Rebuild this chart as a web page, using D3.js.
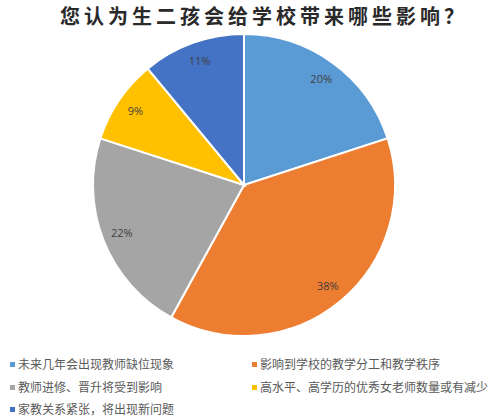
<!DOCTYPE html>
<html>
<head>
<meta charset="utf-8">
<script src="https://cdn.jsdelivr.net/npm/d3@7"></script>
<style>
  body { margin: 0; background: #fff; }
  svg { display: block; }
</style>
</head>
<body>
<svg id="chart" width="500" height="420"></svg>
<script>
var title = "您认为生二孩会给学校带来哪些影响？";
var categories = [
    "未来几年会出现教师缺位现象",
    "影响到学校的教学分工和教学秩序",
    "教师进修、晋升将受到影响",
    "高水平、高学历的优秀女老师数量或有减少",
    "家教关系紧张，将出现新问题"
];
var values = [20, 38, 22, 9, 11];
var colors = ["#5b9bd5", "#ed7d31", "#a5a5a5", "#ffc000", "#4472c4"];

var width = 500, height = 420;
var cx = 244, cy = 185, radius = 151;

var svg = d3.select("#chart");

svg.append("text")
    .attr("x", 264)
    .attr("y", 24)
    .attr("text-anchor", "middle")
    .style("font-family", "'Noto Sans CJK SC', sans-serif")
    .style("font-weight", "bold")
    .style("font-size", "20px")
    .style("letter-spacing", "4px")
    .attr("fill", "#2a2a2a")
    .text(title);

var pie = d3.pie().sort(null).value(d => d);
var arcs = pie(values);
var arc = d3.arc().innerRadius(0).outerRadius(radius);
var labelArc = d3.arc().innerRadius(radius * 0.87).outerRadius(radius * 0.87);

var g = svg.append("g").attr("transform", "translate(" + cx + "," + cy + ")");

g.selectAll("path")
    .data(arcs)
    .enter()
    .append("path")
    .attr("d", arc)
    .attr("fill", (d, i) => colors[i])
    .attr("stroke", "#fff")
    .attr("stroke-width", 2);

g.selectAll("text")
    .data(arcs)
    .enter()
    .append("text")
    .attr("transform", d => "translate(" + labelArc.centroid(d) + ")")
    .attr("text-anchor", "middle")
    .attr("dy", "0.35em")
    .style("font-family", "'Open Sans', sans-serif")
    .style("font-size", "11px")
    .attr("fill", "#404040")
    .text(d => d.data + "%");

// legend
var legX = [10, 252], legY = [365, 388, 410];
var leg = svg.append("g")
    .selectAll("g")
    .data(categories)
    .enter()
    .append("g")
    .attr("transform", (d, i) => "translate(" + legX[i % 2] + "," + legY[Math.floor(i / 2)] + ")");

leg.append("rect")
    .attr("x", 0)
    .attr("y", -3)
    .attr("width", 5)
    .attr("height", 5)
    .attr("fill", (d, i) => colors[i]);

leg.append("text")
    .attr("x", 8)
    .attr("y", 0)
    .attr("dy", "0.35em")
    .style("font-family", "'Noto Sans CJK SC', sans-serif")
    .style("font-size", "12px")
    .attr("fill", "#595959")
    .text(d => d);
</script>
</body>
</html>
